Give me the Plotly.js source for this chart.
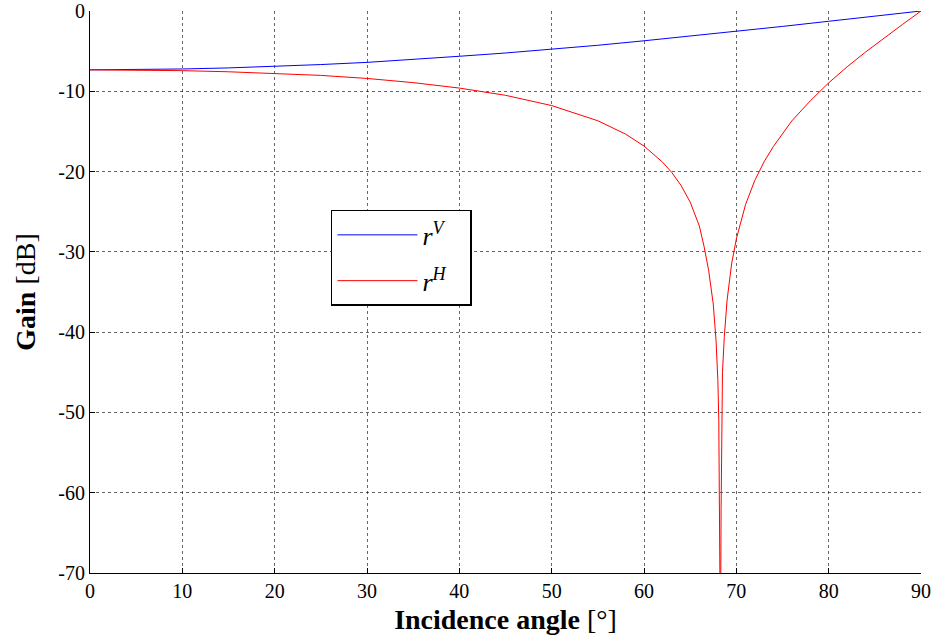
<!DOCTYPE html>
<html>
<head>
<meta charset="utf-8">
<script src="https://cdn.plot.ly/plotly-3.0.1.min.js"></script>
<style>
  html, body { margin: 0; padding: 0; background: #fff; }
  #chart { width: 936px; height: 642px; }
</style>
</head>
<body>
<div id="chart"></div>
<script>
// Vertical polarisation reflection gain (dB) vs incidence angle (deg)
const angleV = [0, 5, 10, 15, 20, 25, 30, 35, 40, 45, 50, 55, 60, 65, 70, 75, 80, 85, 90];
const gainV  = [-7.33, -7.30, -7.22, -7.09, -6.91, -6.67, -6.40, -6.06, -5.64, -5.23, -4.78, -4.27, -3.71, -3.14, -2.50, -1.92, -1.28, -0.65, 0];

// Horizontal polarisation reflection gain (dB) vs incidence angle (deg)
const angleH = [0, 5, 10, 15, 20, 25, 30, 35, 40, 45, 50, 55, 58, 60, 62, 63, 64, 65, 66, 66.5, 67, 67.5, 67.8, 68, 68.1, 68.2, 68.28, 68.35, 68.4, 68.5, 68.7, 69, 69.5, 70, 71, 72, 73, 74, 76, 78, 80, 82, 84, 86, 88, 90];
const gainH  = [-7.33, -7.35, -7.43, -7.57, -7.75, -8.02, -8.40, -8.92, -9.60, -10.5, -11.78, -13.67, -15.33, -16.82, -18.82, -20.1, -21.7, -23.8, -26.8, -29.3, -32.3, -36.5, -41, -46, -51, -59, -80, -62, -53, -45, -40.5, -36, -31.4, -28.4, -24.1, -21.1, -18.8, -16.9, -13.7, -11.2, -8.95, -6.95, -5.11, -3.36, -1.67, 0];

const xTicks = [0, 10, 20, 30, 40, 50, 60, 70, 80, 90];
const xTickText = ['0', '10', '20', '30', '40', '50', '60', '70', '80', '90'];
const yTicks = [0, -10, -20, -30, -40, -50, -60, -70];
const yTickText = ['0', '-10', '-20', '-30', '-40', '-50', '-60', '-70'];

const FONT = 'Liberation Serif, Times New Roman, serif';

const traces = [
  {
    x: angleV, y: gainV, type: 'scatter', mode: 'lines',
    name: '<i>r</i><sup><i>V</i></sup>&nbsp;&nbsp;&nbsp;', legendgroup: 'v',
    line: { color: '#0000ff', width: 1 }
  },
  {
    x: angleH, y: gainH, type: 'scatter', mode: 'lines',
    name: '<i>r</i><sup><i>H</i></sup>&nbsp;&nbsp;&nbsp;', legendgroup: 'h',
    line: { color: '#ff0000', width: 1 }
  }
];

const gridStyle = {
  showgrid: true, gridcolor: 'rgba(0,0,0,0.6)', griddash: 'dot', gridwidth: 1,
  zeroline: false
};

const layout = {
  width: 936, height: 642,
  paper_bgcolor: '#fff', plot_bgcolor: '#fff',
  margin: { l: 90, r: 15, t: 11, b: 69 },
  font: { family: FONT, size: 20, color: '#000' },
  showlegend: true,
  legend: {
    x: 0.29, y: 0.646, xanchor: 'left', yanchor: 'top',
    bgcolor: '#fff', bordercolor: '#000', borderwidth: 1.5,
    font: { family: FONT, size: 26, color: '#000' },
    traceorder: 'grouped', tracegroupgap: 9,
    itemwidth: 80
  },
  xaxis: Object.assign({
    range: [0, 90], tickmode: 'array', tickvals: xTicks, ticktext: xTickText,
    ticks: 'inside', ticklen: 5, tickcolor: '#000', tickwidth: 1,
    showline: true, linecolor: '#000', linewidth: 1,
    tickfont: { family: FONT, size: 20, color: '#000' },
    title: { text: '<b>Incidence angle</b> [°]', font: { family: FONT, size: 28, color: '#000' }, standoff: 8 }
  }, gridStyle),
  yaxis: Object.assign({
    range: [-70, 0], tickmode: 'array', tickvals: yTicks, ticktext: yTickText,
    ticks: 'inside', ticklen: 5, tickcolor: '#000', tickwidth: 1,
    showline: true, linecolor: '#000', linewidth: 1,
    tickfont: { family: FONT, size: 20, color: '#000' },
    title: { text: '<b>Gain</b> [dB]', font: { family: FONT, size: 28, color: '#000' }, standoff: 14 }
  }, gridStyle),
  xaxis2: {
    overlaying: 'x', anchor: 'y', side: 'top', range: [0, 90],
    tickmode: 'array', tickvals: xTicks, showticklabels: false,
    ticks: 'inside', ticklen: 3, tickcolor: '#000',
    showline: false, showgrid: false, zeroline: false
  },
  yaxis2: {
    overlaying: 'y', anchor: 'x', side: 'right', range: [-70, 0],
    tickmode: 'array', tickvals: yTicks, showticklabels: false,
    ticks: 'inside', ticklen: 3, tickcolor: '#000',
    showline: false, showgrid: false, zeroline: false
  }
};

Plotly.newPlot('chart', traces, layout, { displayModeBar: false, staticPlot: true });
</script>
</body>
</html>
